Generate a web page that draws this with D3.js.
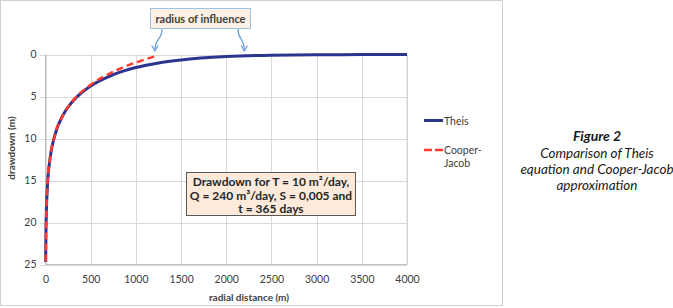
<!DOCTYPE html>
<html><head><meta charset="utf-8">
<script src="https://cdn.jsdelivr.net/npm/d3@7"></script>
<style>
html,body{margin:0;padding:0;background:#fff;}
svg{display:block;}
</style></head>
<body>
<svg id="c" width="673" height="308"></svg>
<script>
// ---- data ----
const theisR  = [2, 5, 10, 20, 50, 100, 200, 300, 500, 750, 1000, 1250, 1500, 2000, 2500, 3000, 3500, 4000];
const theisS  = [24.7, 21.2, 18.5, 15.9, 12.4, 9.75, 7.1, 5.6, 3.75, 2.4, 1.55, 1.0, 0.65, 0.25, 0.08, 0.03, 0.01, 0.0];
const cjR     = [2, 5, 10, 20, 50, 100, 200, 300, 500, 750, 1000, 1210];
const cjS     = [24.65, 21.15, 18.5, 15.85, 12.35, 9.7, 7.1, 5.55, 3.6, 2.05, 0.95, 0.22];
const xTicks  = [0, 500, 1000, 1500, 2000, 2500, 3000, 3500, 4000];
const yTicks  = [0, 5, 10, 15, 20, 25];
const seriesNames = ["Theis", "Cooper-Jacob"];
const boxLines = ["Drawdown for T = 10 m\u00B2/day,", "Q = 240 m\u00B3/day, S = 0,005 and", "t = 365 days"];
const calloutText = "radius of influence";
const calloutTargets = [1210, 2200];
const captionTitle = "Figure 2";
const captionLines = ["Comparison of Theis", "equation and Cooper-Jacob", "approximation"];

const svg = d3.select("#c");
const F = "Lato, 'Open Sans', sans-serif";
const L = 45.5, R = 407, T = 54.5, B = 264.5;

// chart frame
svg.append("rect").attr("x",0.5).attr("y",0.5).attr("width",502).attr("height",305)
  .attr("fill","#fff").attr("stroke","#d0d0d0");

const x = d3.scaleLinear().domain([0,4000]).range([L,R]);
const y = d3.scaleLinear().domain([0,25]).range([T,B]);

// gridlines
const g = svg.append("g");
g.selectAll("line.v").data(xTicks).join("line")
  .attr("x1",d=>Math.round(x(d))+0.5).attr("x2",d=>Math.round(x(d))+0.5)
  .attr("y1",T).attr("y2",B).attr("stroke","#d9d9d9");
g.selectAll("line.h").data(yTicks).join("line")
  .attr("x1",L-6).attr("x2",R)
  .attr("y1",d=>Math.round(y(d))+0.5).attr("y2",d=>Math.round(y(d))+0.5).attr("stroke","#d9d9d9");
// axis lines
g.append("line").attr("x1",L).attr("x2",L).attr("y1",T).attr("y2",B).attr("stroke","#bfbfbf");
g.append("line").attr("x1",R).attr("x2",R).attr("y1",T).attr("y2",B).attr("stroke","#d0d0d0");
g.append("line").attr("x1",L).attr("x2",R).attr("y1",B).attr("y2",B).attr("stroke","#bfbfbf");

// axes (labels only)
const xa = svg.append("g").attr("transform",`translate(0,${B})`)
  .call(d3.axisBottom(x).tickValues(xTicks).tickSize(0).tickPadding(11).tickFormat(d3.format("d")));
xa.select(".domain").remove();
xa.selectAll("text").attr("font-family",F).attr("font-size","10.5px").attr("fill","#404040");
const ya = svg.append("g").attr("transform",`translate(${L},0)`)
  .call(d3.axisLeft(y).tickValues(yTicks).tickSize(0).tickPadding(9));
ya.select(".domain").remove();
ya.selectAll("text").attr("font-family",F).attr("font-size","10.5px").attr("fill","#404040");

// axis titles
svg.append("text").attr("x",249).attr("y",301).attr("text-anchor","middle")
  .attr("font-family",F).attr("font-weight","bold").attr("font-size","10px").attr("fill","#404040")
  .text("radial distance (m)");
svg.append("text").attr("transform","translate(15,148) rotate(-90)").attr("text-anchor","middle")
  .attr("font-family",F).attr("font-weight","bold").attr("font-size","10px").attr("fill","#404040")
  .text("drawdown (m)");

// lines
const line = d3.line().x(d=>x(d[0])).y(d=>y(d[1])).curve(d3.curveMonotoneX);
const theis = theisR.map((r,i)=>[r,theisS[i]]);
const cj = cjR.map((r,i)=>[r,cjS[i]]);
svg.append("path").attr("d",line(theis)).attr("fill","none").attr("stroke","#2b3590").attr("stroke-width",3);
svg.append("path").attr("d",line(cj)).attr("fill","none").attr("stroke","#ff3b30").attr("stroke-width",2.5)
  .attr("stroke-dasharray","7,4");

// legend
const lg = svg.append("g");
lg.append("line").attr("x1",424).attr("x2",443).attr("y1",120.5).attr("y2",120.5).attr("stroke","#2b3590").attr("stroke-width",3);
lg.append("text").attr("x",444).attr("y",124.5).attr("font-family",F).attr("font-size","10.5px").attr("fill","#404040").text(seriesNames[0]);
lg.append("line").attr("x1",424).attr("x2",443).attr("y1",150).attr("y2",150).attr("stroke","#ff3b30").attr("stroke-width",2.5).attr("stroke-dasharray","8,3");
lg.append("text").attr("x",444).attr("y",154).attr("font-family",F).attr("font-size","10.5px").attr("fill","#404040").text("Cooper-");
lg.append("text").attr("x",444).attr("y",167).attr("font-family",F).attr("font-size","10.5px").attr("fill","#404040").text("Jacob");

// text box
svg.append("rect").attr("x",186.5).attr("y",172.5).attr("width",169).attr("height",43)
  .attr("fill","#fdeada").attr("stroke","#595959").attr("stroke-width",1);
boxLines.forEach((t,i)=>{
  svg.append("text").attr("x",271).attr("y",186+i*13.5).attr("text-anchor","middle")
    .attr("font-family",F).attr("font-weight","bold").attr("font-size","12px").attr("fill","#262626").text(t);
});

// callout
const defs = svg.append("defs");
defs.append("marker").attr("id","ah").attr("viewBox","0 0 10 10").attr("refX",8).attr("refY",5)
  .attr("markerWidth",6).attr("markerHeight",6).attr("orient","auto-start-reverse")
  .append("path").attr("d","M1,1 L8,5 L1,9").attr("fill","none").attr("stroke","#6f9fd8").attr("stroke-width",1.6);
const starts = [162, 238];
calloutTargets.forEach((r,i)=>{
  const tx = x(r), ty = 51, sx = starts[i], sy = 29;
  svg.append("path").attr("d",`M${sx},${sy} C${sx},${sy+12} ${tx},${sy+8} ${tx},${ty}`)
    .attr("fill","none").attr("stroke","#6f9fd8").attr("stroke-width",1.3).attr("marker-end","url(#ah)");
});
svg.append("rect").attr("x",150.5).attr("y",8.5).attr("width",100).attr("height",20)
  .attr("fill","#fdf0e4").attr("stroke","#9dc3e6").attr("stroke-width",1);
svg.append("text").attr("x",200.5).attr("y",22.5).attr("text-anchor","middle")
  .attr("font-family",F).attr("font-weight","bold").attr("font-size","11px").attr("fill","#404040").text(calloutText);

// caption
svg.append("text").attr("x",597).attr("y",141).attr("text-anchor","middle")
  .attr("font-family",F).attr("font-weight","bold").attr("font-style","italic").attr("font-size","14px").attr("fill","#1a1a1a").text(captionTitle);
captionLines.forEach((t,i)=>{
  svg.append("text").attr("x",597).attr("y",157.5+i*16).attr("text-anchor","middle")
    .attr("font-family",F).attr("font-style","italic").attr("font-size","13.5px").attr("fill","#1a1a1a").text(t);
});
</script>
</body></html>
